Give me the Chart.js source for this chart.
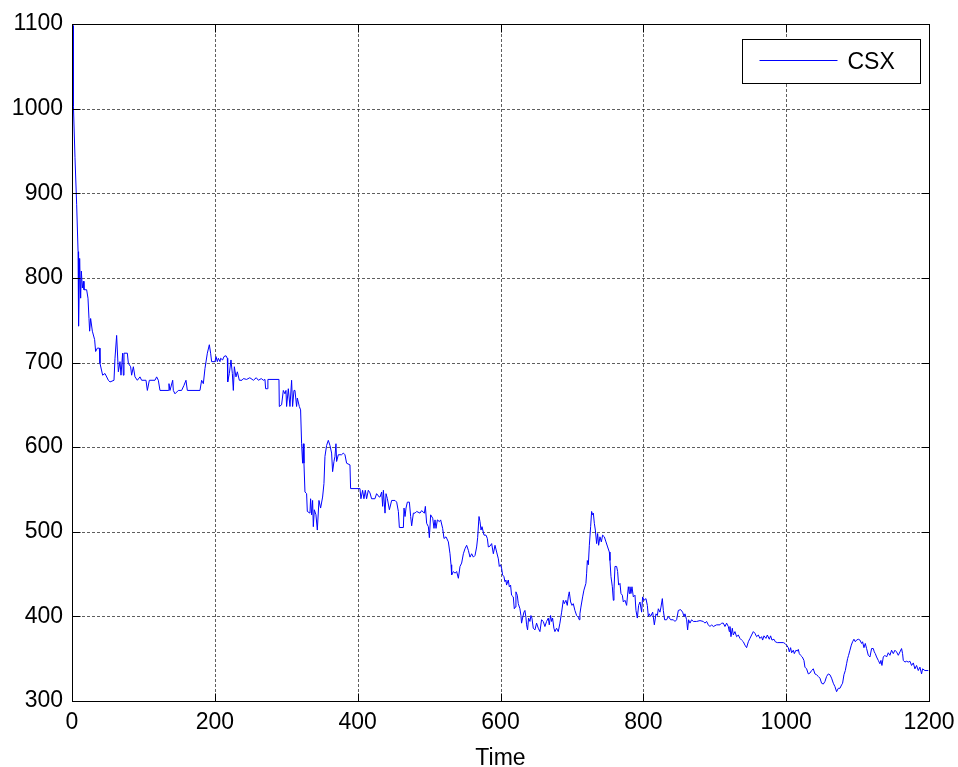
<!DOCTYPE html>
<html>
<head>
<meta charset="utf-8">
<script src="https://cdn.jsdelivr.net/npm/chart.js@4/dist/chart.umd.min.js"></script>
<style>
  html, body { margin: 0; padding: 0; background: #fff; }
  #wrap { width: 958px; height: 767px; }
</style>
</head>
<body>
<div id="wrap"><canvas id="c" width="958" height="767"></canvas></div>
<script>
// CSX price series over time
const seriesName = 'CSX';
const timeSteps = [
  0, 0.5, 1, 1.5, 2, 4.2, 6.5, 8.5, 9.2, 10.7, 12.1, 13.1, 14.5, 15.9, 16.8, 20.5, 22.4, 23.8, 24.7, 26.1,
  28.5, 31.7, 33.1, 35.5, 38.3, 39.2, 42.9, 46.2, 50.9, 53.2, 58.8, 60.2, 62.5, 64.9, 67.2, 68.6, 70.9, 71.9, 72.8, 77.5,
  78.9, 82.1, 83.5, 85.9, 88.2, 91.5, 95.2, 97.5, 103.6, 105.5, 108.3, 116.2, 118.5, 120.9, 123.2, 134.9, 135.8, 137.2, 141, 141.9,
  144.2, 148.9, 153.5, 156.8, 159.6, 161.5, 179.2, 181.5, 183.9, 186.2, 189.5, 192.3, 194.1, 195.5, 200.2, 201.6, 203.5, 204.9, 207.2, 208.1,
  210.9, 212.8, 215.6, 217.5, 218, 220.3, 222.6, 224.5, 225.9, 227.3, 229.6, 231.5, 234.3, 238, 240, 244.5, 249, 254, 258, 261,
  265, 268, 270.2, 271.1, 273.9, 274.3, 289.8, 290.3, 293.5, 295.9, 298.2, 299.6, 300.5, 302.9, 305.2, 307.5, 308.9, 310.8, 312.2, 314.5,
  315.5, 318.3, 320.1, 321.5, 322.9, 323.9, 324.8, 326.2, 328.5, 329.5, 333.2, 334.1, 335.5, 336.9, 337.9, 339.3, 341.6, 343.5, 345.8, 348.1,
  350.9, 352.8, 354.2, 356.5, 358.9, 361.2, 363.5, 364.9, 366.8, 368.2, 369.6, 370.5, 372.9, 377.5, 379.9, 382.2, 384.5, 389.2, 390.1, 403.2,
  404.6, 406.9, 408.8, 410.7, 412.5, 414.9, 417.2, 419.5, 424.2, 426.5, 430.3, 431.3, 433.6, 435, 436, 438.3, 439.7, 441.6, 444.4, 447.6,
  452.3, 454.6, 457, 458.4, 464, 464.9, 466.3, 467.7, 469.6, 472.4, 474.2, 475.6, 478, 480.3, 482.6, 487.3, 489.6, 493.4, 494.8, 496.6,
  499, 500.4, 502.2, 505.1, 506.9, 508.3, 509.7, 511.6, 514.4, 516.2, 519, 520.9, 523.7, 527, 529.3, 530.7, 531.6, 534, 536.3, 538.6,
  541, 543.3, 545.6, 548, 550.3, 552.6, 555, 557.3, 559.6, 562, 564.3, 566.6, 568, 569.9, 571.3, 572.7, 574.1, 576.9, 579.7, 581.6,
  583, 585.3, 587.6, 590, 592.3, 594.6, 597, 598.3, 600.1, 601.5, 602.9, 604.8, 606.2, 607.6, 608.5, 610.9, 612.3, 614.1, 615.5, 617.9,
  619.3, 620.7, 621.6, 623.5, 624.9, 627.2, 628.6, 629.5, 630.9, 632.8, 634.2, 635.6, 636.5, 637.9, 639.3, 641.2, 642.6, 644, 645.9, 648.2,
  650.5, 652.9, 655.2, 657.5, 659.9, 662.2, 664.5, 666.9, 668.3, 670.1, 671.5, 672.9, 674.8, 676.2, 678.5, 680.9, 683.2, 685.6, 687.9, 689.3,
  691.6, 693.5, 694.9, 696.3, 698.2, 700.1, 701.9, 704.2, 706.6, 708.9, 710.3, 711.2, 712.6, 715, 716.8, 719.6, 720.6, 721.6, 723, 724.4,
  726.2, 727.6, 729, 730, 731.4, 732.8, 734.6, 736, 737.4, 739.3, 741.2, 743, 745.4, 747.7, 750, 752.4, 753.3, 754.7, 756.6, 758,
  758.9, 760.3, 762.6, 764, 765.4, 767.3, 768.7, 770.6, 772, 774.3, 776.6, 779, 780.4, 781.3, 782.7, 784.1, 786, 788.3, 789.7, 791.6,
  793.4, 795.3, 797.6, 799, 800.9, 803.7, 805.6, 807, 808.4, 810.2, 813.1, 815.4, 817.7, 819.6, 821, 823.3, 824.7, 826.6, 828, 829.8,
  832.6, 835, 838.2, 842, 844.3, 846.6, 849, 852.2, 855, 856.9, 858.3, 860.6, 862, 863.4, 865.3, 867.6, 870, 874.6, 879.3, 884,
  886.3, 888.6, 891, 893.3, 895.6, 898, 902.6, 907.3, 909.6, 912, 914.3, 916.6, 919, 920.4, 921.3, 922.7, 924.6, 926, 928.3, 930.6,
  933, 935.3, 937.6, 940, 942.3, 944.6, 947, 949.3, 951.6, 954, 956.3, 958.6, 961, 963.3, 965.6, 967, 968.9, 971.7, 973.6, 976.4,
  978.2, 980.1, 982.9, 984.8, 987.6, 996, 998.3, 1000.6, 1003, 1004.4, 1006.2, 1007.6, 1010, 1011.4, 1013.7, 1015.6, 1017, 1018.4, 1020.2, 1022.6,
  1024.9, 1026.3, 1028.6, 1031, 1033.3, 1035.6, 1038, 1040.3, 1042.6, 1045, 1047.3, 1049.6, 1052, 1054.3, 1056.6, 1059, 1061.3, 1063.6, 1066, 1068.3,
  1070.6, 1073, 1075.3, 1077.6, 1079, 1080.9, 1082.8, 1084.6, 1086, 1087.4, 1089.3, 1091.2, 1093, 1094.9, 1096.8, 1098.6, 1101, 1103.3, 1105.6, 1107,
  1108.9, 1110.8, 1112.6, 1115, 1117.3, 1119.6, 1122, 1123.4, 1124.8, 1126.6, 1129, 1131.3, 1132.7, 1134.1, 1136, 1138.3, 1140.6, 1143, 1145.3, 1147.6,
  1150, 1152.3, 1154.6, 1157, 1159.3, 1161.6, 1163, 1164, 1166.3, 1168.6, 1171, 1173.3, 1175.6, 1178, 1180.3, 1182.6, 1185, 1187.3, 1189.6, 1191,
  1194.3, 1199
];
const csxPrice = [
  1050, 1100, 1048, 1098, 1003, 942, 887, 831, 743, 823, 776, 808, 788, 796, 786, 786, 776, 752, 737, 752,
  737, 727, 713, 717, 717, 699, 685, 687, 679, 677, 679, 705, 732, 689, 701, 685, 711, 685, 711, 711,
  699, 695, 685, 695, 683, 679, 683, 679, 679, 667, 679, 679, 683, 679, 667, 667, 675, 667, 679, 667,
  663, 667, 667, 673, 679, 667, 667, 679, 675, 693, 711, 721, 711, 701, 701, 707, 701, 705, 701, 705,
  703, 707, 708, 705, 677, 687, 703, 687, 667, 695, 683, 689, 679, 679, 681, 680, 682, 679, 682, 679,
  681, 679, 680, 669, 669, 680, 680, 648, 650, 667, 663, 667, 648, 669, 648, 679, 648, 667, 667, 648,
  658, 648, 644, 604, 581, 604, 581, 547, 545, 524, 522, 539, 520, 537, 506, 526, 520, 502, 537, 528,
  541, 557, 589, 602, 608, 602, 593, 571, 583, 589, 604, 583, 591, 591, 593, 591, 581, 579, 551, 551,
  539, 549, 539, 549, 539, 549, 546, 539, 539, 545, 541, 541, 547, 530, 549, 522, 545, 539, 526, 537,
  537, 535, 524, 505, 505, 528, 518, 528, 535, 535, 518, 507, 522, 522, 524, 522, 525, 522, 530, 510,
  506, 493, 520, 516, 504, 514, 504, 514, 512, 514, 504, 492, 494, 488, 474, 461, 449, 453, 451, 453,
  445, 459, 463, 474, 480, 484, 478, 470, 474, 470, 472, 482, 493, 518, 512, 502, 506, 496, 496, 492,
  482, 483, 486, 474, 484, 476, 468, 459, 461, 457, 449, 447, 441, 443, 437, 443, 435, 437, 425, 423,
  409, 411, 429, 425, 415, 409, 401, 392, 398, 405, 407, 399, 390, 384, 398, 394, 401, 398, 386, 384,
  392, 386, 382, 396, 394, 388, 394, 398, 390, 401, 394, 398, 386, 382, 386, 382, 392, 405, 419, 415,
  419, 413, 423, 429, 417, 413, 415, 407, 401, 399, 396, 403, 411, 423, 431, 439, 451, 466, 461, 484,
  506, 524, 520, 522, 510, 502, 486, 498, 484, 494, 488, 496, 494, 488, 482, 476, 466, 447, 435, 419,
  431, 459, 459, 453, 437, 439, 427, 425, 417, 419, 413, 435, 427, 435, 427, 435, 423, 425, 407, 398,
  413, 417, 405, 423, 419, 421, 413, 400, 403, 400, 405, 390, 403, 401, 409, 405, 411, 421, 407, 396,
  396, 400, 396, 396, 394, 396, 407, 408, 405, 400, 403, 396, 384, 396, 392, 396, 394, 394, 395, 394,
  392, 394, 390, 388, 390, 388, 390, 390, 392, 392, 388, 392, 388, 382, 388, 376, 386, 378, 382, 376,
  378, 374, 372, 370, 366, 363, 370, 374, 378, 382, 380, 376, 378, 374, 376, 372, 377, 374, 378, 373,
  377, 372, 373, 370, 369, 369, 368, 366, 363, 358, 363, 357, 360, 356, 360, 359, 361, 356, 354, 352,
  348, 340, 338, 332, 333, 336, 338, 332, 331, 329, 327, 321, 320, 323, 329, 332, 331, 327, 321, 317,
  311, 315, 315, 319, 321, 331, 336, 344, 350, 354, 360, 366, 370, 373, 370, 372, 373, 372, 368, 370,
  363, 368, 362, 354, 352, 362, 362, 358, 356, 352, 348, 344, 348, 342, 352, 354, 352, 357, 354, 360,
  356, 360, 358, 354, 358, 362, 356, 348, 346, 347, 346, 347, 342, 345, 338, 342, 336, 340, 332, 338,
  336, 336
];
const timeTicks = [0, 200, 400, 600, 800, 1000, 1200];
const priceTicks = [300, 400, 500, 600, 700, 800, 900, 1000, 1100];

const points = timeSteps.map((t, i) => ({ x: t, y: csxPrice[i] }));
const FONT = '"Liberation Sans", Arial, Helvetica, sans-serif';
const plainNumber = v => String(v);

// dotted grid, boxed axes with inward ticks on every side, boxed legend
const matlabAxes = {
  id: 'matlabAxes',
  beforeDatasetsDraw(chart) {
    const { ctx, chartArea: a, scales: { x, y } } = chart;
    ctx.save();
    ctx.strokeStyle = 'rgba(40,40,40,0.75)';
    ctx.lineWidth = 1;
    ctx.setLineDash([3, 2]);
    timeTicks.forEach(v => {
      const px = Math.round(x.getPixelForValue(v)) + 0.5;
      if (v === timeTicks[0] || v === timeTicks[timeTicks.length - 1]) return;
      ctx.beginPath(); ctx.moveTo(px, a.top); ctx.lineTo(px, a.bottom); ctx.stroke();
    });
    priceTicks.forEach(v => {
      const py = Math.round(y.getPixelForValue(v)) + 0.5;
      if (v === priceTicks[0] || v === priceTicks[priceTicks.length - 1]) return;
      ctx.beginPath(); ctx.moveTo(a.left, py); ctx.lineTo(a.right, py); ctx.stroke();
    });
    ctx.restore();
  },
  afterDatasetsDraw(chart) {
    const { ctx, chartArea: a, scales: { x, y } } = chart;
    const L = Math.round(a.left) + 0.5, R = Math.round(a.right) + 0.5;
    const T = Math.round(a.top) + 0.5, B = Math.round(a.bottom) + 0.5;
    const tl = 8;
    ctx.save();
    ctx.strokeStyle = '#000';
    ctx.lineWidth = 1;
    ctx.setLineDash([]);
    ctx.strokeRect(L, T, R - L, B - T);
    ctx.beginPath();
    timeTicks.forEach(v => {
      const px = Math.round(x.getPixelForValue(v)) + 0.5;
      ctx.moveTo(px, B); ctx.lineTo(px, B - tl);
      ctx.moveTo(px, T); ctx.lineTo(px, T + tl);
    });
    priceTicks.forEach(v => {
      const py = Math.round(y.getPixelForValue(v)) + 0.5;
      ctx.moveTo(L, py); ctx.lineTo(L + tl, py);
      ctx.moveTo(R, py); ctx.lineTo(R - tl, py);
    });
    ctx.stroke();

    // legend box
    const ds = chart.data.datasets[0];
    const bw = 178, bh = 44;
    const bx = Math.round(a.right - 9 - bw) + 0.5, by = Math.round(a.top + 15) + 0.5;
    ctx.fillStyle = '#fff';
    ctx.fillRect(bx, by, bw, bh);
    ctx.strokeStyle = '#000';
    ctx.strokeRect(bx, by, bw, bh);
    ctx.strokeStyle = ds.borderColor;
    ctx.beginPath();
    ctx.moveTo(bx + 17, by + 21); ctx.lineTo(bx + 95, by + 21);
    ctx.stroke();
    ctx.fillStyle = '#000';
    ctx.font = '23px ' + FONT;
    ctx.textBaseline = 'middle';
    ctx.textAlign = 'left';
    ctx.fillText(ds.label, bx + 105, by + 23);
    ctx.restore();
  }
};

new Chart(document.getElementById('c'), {
  type: 'line',
  data: {
    datasets: [{
      label: seriesName,
      data: points,
      borderColor: '#0000ff',
      borderWidth: 1,
      pointRadius: 0,
      tension: 0,
      fill: false
    }]
  },
  options: {
    responsive: false,
    animation: false,
    devicePixelRatio: 1,
    layout: { padding: { top: 24, right: 29, left: 0, bottom: 0 } },
    plugins: { legend: { display: false }, tooltip: { enabled: false } },
    scales: {
      x: {
        type: 'linear',
        min: 0, max: 1200,
        afterFit(s) { s.height = 66; s.paddingLeft = 0; s.paddingRight = 0; },
        afterBuildTicks(s) { s.ticks = timeTicks.map(v => ({ value: v })); },
        grid: { display: false, drawTicks: false },
        border: { display: false },
        ticks: { color: '#000', font: { family: FONT, size: 23 }, padding: 8, maxRotation: 0, autoSkip: false, callback: plainNumber },
        title: { display: true, text: 'Time', color: '#000', font: { family: FONT, size: 23 }, padding: { top: 0, bottom: -5 } }
      },
      y: {
        type: 'linear',
        min: 300, max: 1100,
        afterFit(s) { s.width = 72; s.paddingTop = 0; s.paddingBottom = 0; },
        afterBuildTicks(s) { s.ticks = priceTicks.map(v => ({ value: v })); },
        grid: { display: false, drawTicks: false },
        border: { display: false },
        ticks: { color: '#000', font: { family: FONT, size: 23 }, padding: 9, autoSkip: false, callback: plainNumber }
      }
    }
  },
  plugins: [matlabAxes]
});
</script>
</body>
</html>
